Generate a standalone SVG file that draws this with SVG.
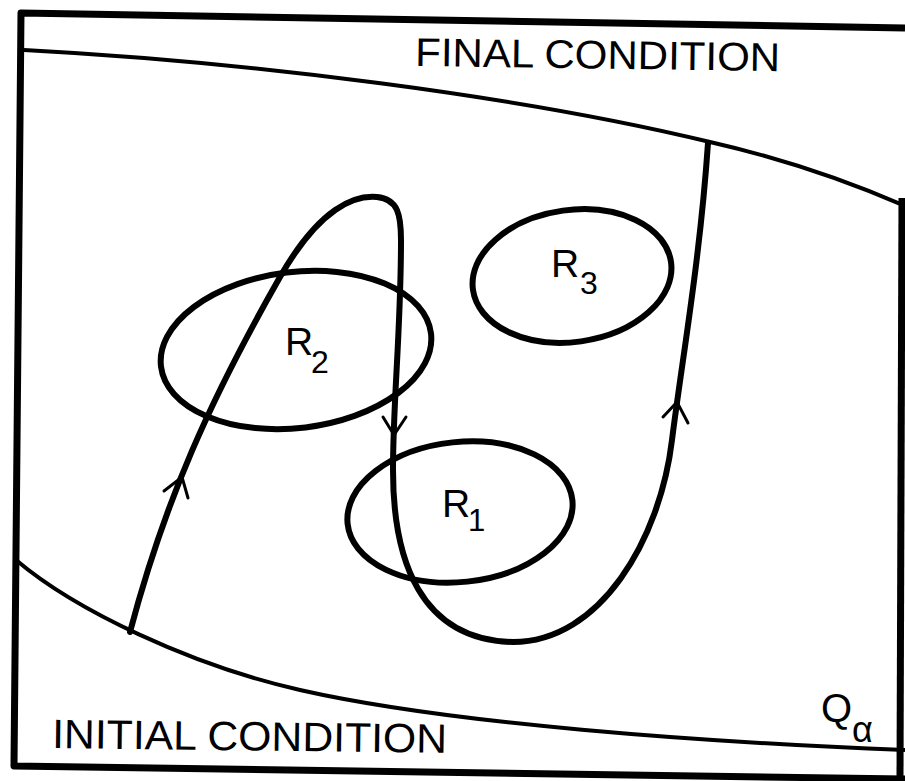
<svg xmlns="http://www.w3.org/2000/svg" width="905" height="781" viewBox="0 0 905 781">
<style>
.frame{fill:none;stroke:#000;stroke-width:7;stroke-linejoin:round;stroke-linecap:butt}
.bound{fill:none;stroke:#000;stroke-width:4}
.region{fill:none;stroke:#000;stroke-width:6}
.traj{fill:none;stroke:#000;stroke-width:6;stroke-linecap:round;stroke-linejoin:round}
.head{fill:none;stroke:#000;stroke-width:3;stroke-linecap:round;stroke-linejoin:miter}
.lbl{font-family:"Liberation Sans",Arial,sans-serif;fill:#000}
</style>
<rect width="905" height="781" fill="#fff"/>
<g id="frame">
<path class="frame" d="M905,28 L21,13 L14,766 L905,779"/>
<path class="frame" d="M902,198 L900,777"/>
</g>
<g id="final-condition">
<path class="bound" d="M24,50 C250,62 520,96 710,142 C780,158 850,182 905,206"/>
<text class="lbl" x="415" y="66" font-size="40" textLength="365" lengthAdjust="spacingAndGlyphs" transform="rotate(0.8 415 66)">FINAL CONDITION</text>
</g>
<g id="initial-condition">
<path class="bound" d="M16,560 C75,610 190,665 300,690 C450,724 700,742 905,750"/>
<text class="lbl" x="52" y="748" font-size="41" textLength="395" lengthAdjust="spacingAndGlyphs" transform="rotate(0.7 52 748)">INITIAL CONDITION</text>
</g>
<g id="Q-alpha">
<text class="lbl" x="821" y="722" font-size="40">Q<tspan x="852" y="742" font-size="36">α</tspan></text>
</g>
<g id="R2">
<ellipse class="region" cx="296" cy="350" rx="136" ry="78" transform="rotate(-7 296 350)"/>
<text class="lbl" x="285" y="355" font-size="39">R<tspan x="311" y="373" font-size="32">2</tspan></text>
</g>
<g id="R1">
<ellipse class="region" cx="460" cy="512" rx="113" ry="70" transform="rotate(-6 460 512)"/>
<text class="lbl" x="442" y="517" font-size="39">R<tspan x="468" y="531" font-size="31">1</tspan></text>
</g>
<g id="R3">
<ellipse class="region" cx="572" cy="276" rx="100" ry="66" transform="rotate(-8 572 276)"/>
<text class="lbl" x="551" y="277" font-size="39">R<tspan x="580" y="294" font-size="32">3</tspan></text>
</g>
<g id="connectors">
<path class="traj" d="M130,632 C165,500 210,400 280,277 C320,207 355,195 377,197 C398,199 401,215 401,240 C401,330 393,400 393,470 C393,560 420,640 513,642 C600,642 660,540 672,440 C682,360 700,260 708,143"/>
<polyline class="head" points="164,491 182,477 188,498"/>
<polyline class="head" points="383,417 394,435 406,417"/>
<polyline class="head" points="663,417 677,402 688,423"/>
</g>
</svg>
